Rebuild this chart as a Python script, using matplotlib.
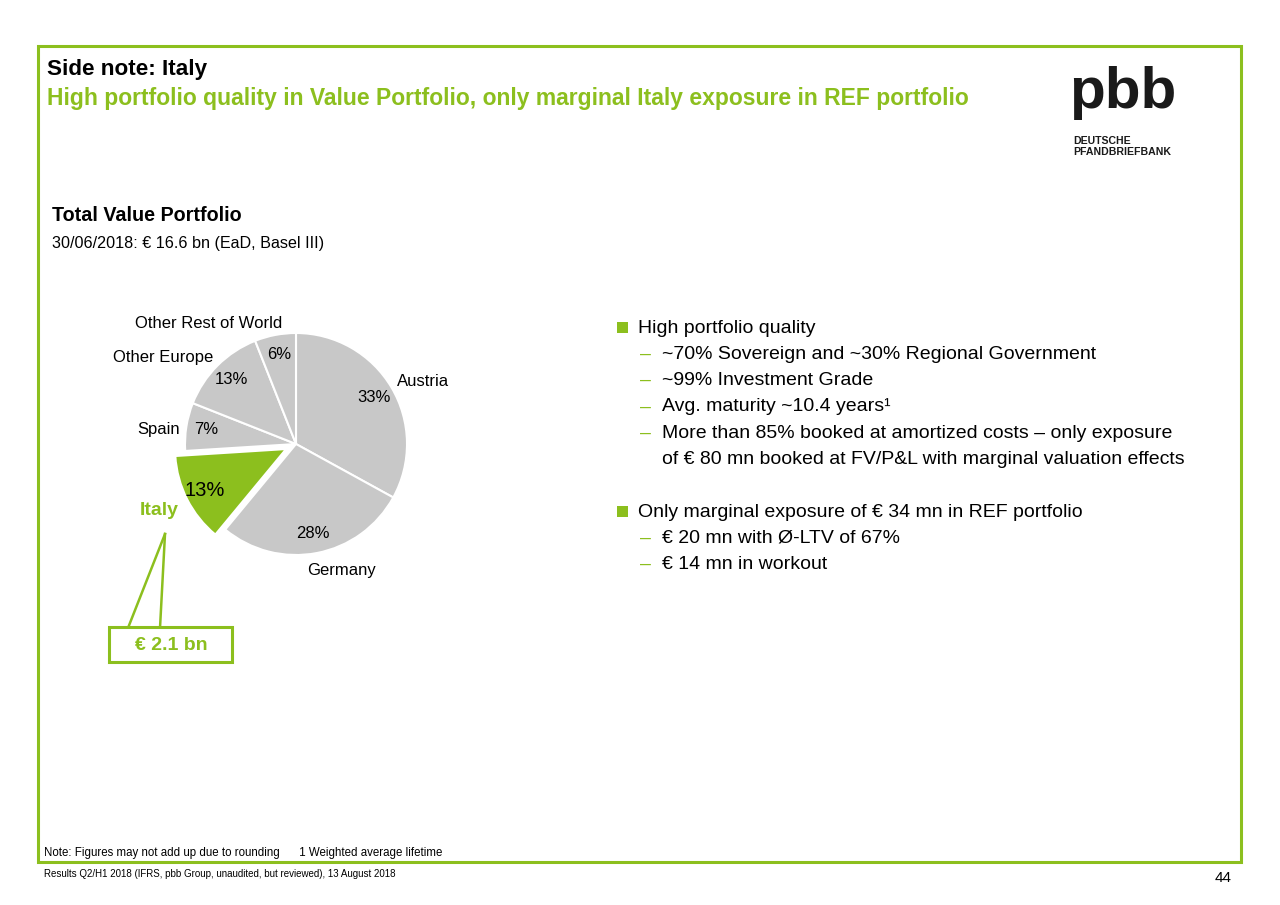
import matplotlib
matplotlib.use("Agg")
import matplotlib.pyplot as plt
from matplotlib.patches import Rectangle

plt.rcParams['font.family'] = ['Liberation Sans', 'DejaVu Sans']

# data
regions = ["Austria", "Germany", "Italy", "Spain", "Other Europe", "Other Rest of World"]
shares = [33, 28, 13, 7, 13, 6]
explode = [0, 0, 0.1, 0, 0, 0]

bullets = [
    ("sq", "High portfolio quality"),
    ("dash", "~70% Sovereign and ~30% Regional Government"),
    ("dash", "~99% Investment Grade"),
    ("dash", "Avg. maturity ~10.4 years\u00b9"),
    ("dash", "More than 85% booked at amortized costs \u2013 only exposure"),
    ("cont", "of \u20ac 80 mn booked at FV/P&L with marginal valuation effects"),
    ("blank", ""),
    ("sq", "Only marginal exposure of \u20ac 34 mn in REF portfolio"),
    ("dash", "\u20ac 20 mn with \u00d8-LTV of 67%"),
    ("dash", "\u20ac 14 mn in workout"),
]

GREEN = '#8cbf1e'
GREY = '#c8c8c8'

W, H = 1280, 905
fig = plt.figure(figsize=(W / 100, H / 100), dpi=100)

# background axes in pixel coords
bg = fig.add_axes([0, 0, 1, 1])
bg.set_xlim(0, W)
bg.set_ylim(H, 0)
bg.axis('off')

# frame
bg.add_patch(Rectangle((38, 46), 1203, 816, fill=False, ec=GREEN, lw=2.2))

# titles
bg.text(47, 70, "Side note: Italy", fontsize=16.2, fontweight='bold', color='black', va='center')
bg.text(47, 98, "High portfolio quality in Value Portfolio, only marginal Italy exposure in REF portfolio",
        fontsize=16.5, fontweight='bold', color=GREEN, va='center')

# logo
bg.text(1069, 93, "pbb", fontsize=42, fontweight='bold', color='#1a1a1a', va='center', ha='left')
bg.text(1073, 141, "DEUTSCHE", fontsize=7.6, fontweight='bold', color='#1a1a1a', va='center')
bg.text(1073, 152, "PFANDBRIEFBANK", fontsize=7.6, fontweight='bold', color='#1a1a1a', va='center')

bg.text(52, 215, "Total Value Portfolio", fontsize=14.2, fontweight='bold', va='center')
bg.text(52, 243, "30/06/2018: \u20ac 16.6 bn (EaD, Basel III)", fontsize=11.6, va='center')

# right-hand text
y = 328
for kind, txt in bullets:
    if kind == "sq":
        bg.add_patch(Rectangle((617, y - 6), 11, 11, color=GREEN, lw=0))
        bg.text(638, y, txt, fontsize=14, va='center')
    elif kind == "dash":
        bg.text(640, y, "\u2013", fontsize=14, va='center', color=GREEN)
        bg.text(662, y, txt, fontsize=14, va='center')
    elif kind == "cont":
        bg.text(662, y, txt, fontsize=14, va='center')
    y += 26.3

# pie
cx, cy, half = 296, 444, 150
R = 111.0
ax = fig.add_axes([(cx - half) / W, 1 - (cy + half) / H, 2 * half / W, 2 * half / H])
lim = half / R

colors = [GREEN if r == "Italy" else GREY for r in regions]
wedges, texts, autotexts = ax.pie(
    shares, labels=regions, colors=colors, explode=explode, startangle=90,
    counterclock=False, radius=1, autopct='%d%%', pctdistance=0.82,
    wedgeprops=dict(edgecolor='white', linewidth=1.5),
    textprops=dict(fontsize=12))
ax.set_xlim(-lim, lim)
ax.set_ylim(-lim, lim)
ax.set_aspect('equal')
ax.axis('off')

label_pos = {
    "Austria": (1.14, 0.56),
    "Germany": (0.41, -1.14),
    "Italy": (-1.23, -0.60),
    "Spain": (-1.24, 0.13),
    "Other Europe": (-1.20, 0.78),
    "Other Rest of World": (-0.79, 1.09),
}
for t, r in zip(texts, regions):
    t.set_position(label_pos[r])
    t.set_ha('center')
    t.set_va('center')
    if r == "Italy":
        t.set_color(GREEN)
        t.set_fontweight('bold')
        t.set_fontsize(14)
for t, r in zip(autotexts, regions):
    if r == "Italy":
        t.set_fontsize(14.5)

# callout for Italy
bg.plot([165, 128], [534, 628], color=GREEN, lw=1.8)
bg.plot([165, 160], [534, 628], color=GREEN, lw=1.8)
bg.add_patch(Rectangle((109, 627), 123, 35, fill=True, fc='white', ec=GREEN, lw=2.2, zorder=3))
bg.text(171, 645, "\u20ac 2.1 bn", fontsize=14, fontweight='bold', color=GREEN,
        ha='center', va='center', zorder=4)

# footer
bg.text(44, 853, "Note: Figures may not add up due to rounding      1 Weighted average lifetime",
        fontsize=8.3, va='center')
bg.text(44, 874, "Results Q2/H1 2018 (IFRS, pbb Group, unaudited, but reviewed), 13 August 2018",
        fontsize=7, va='center')
bg.text(1232, 878, "44", fontsize=11, va='center', ha='right')

fig.savefig("out.png", dpi=100)
